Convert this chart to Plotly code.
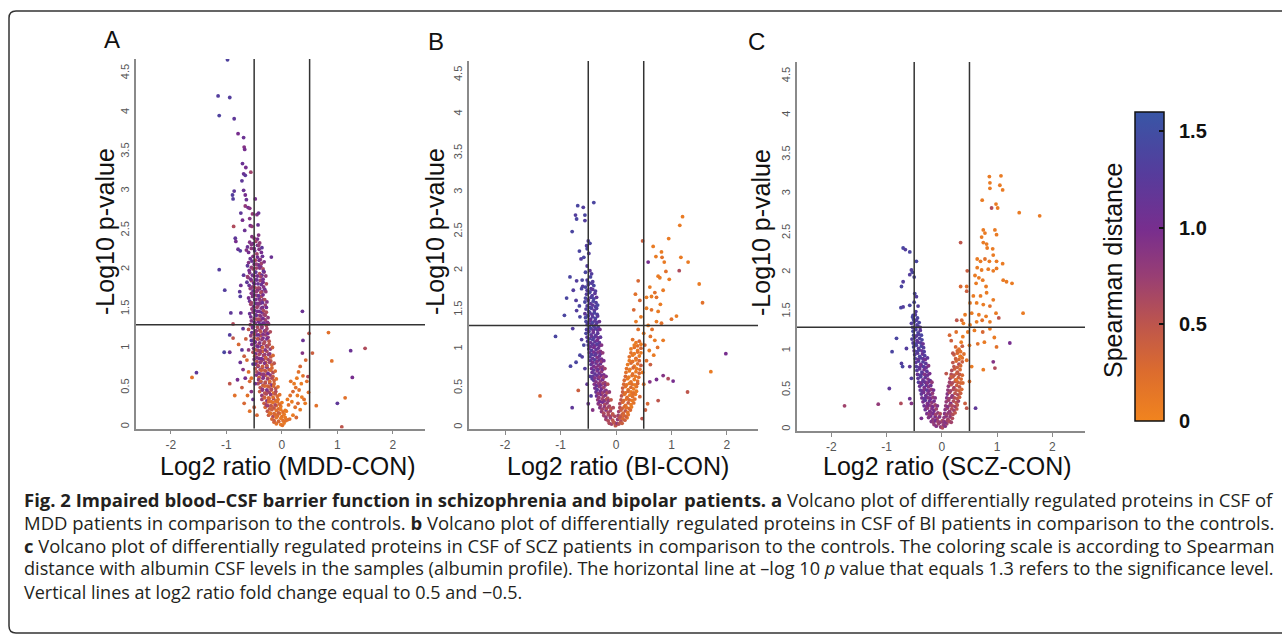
import plotly.graph_objects as go

# ---------------- DATA ----------------
# Panel A: MDD vs CON  (log2 ratio, -log10 p, Spearman distance)
mdd_top_log2 = [-0.98, -1.15, -0.94, -1.13, -0.86, -0.79, -0.69, -0.68,
                -0.67, -0.71, -0.65, -0.69, -0.66, -0.56, -0.72, -0.69,
                -0.89, -0.86, -0.88, -0.66, -0.64, -0.48, -0.66, -0.61,
                -0.58, -0.74, -0.53, -0.45, -0.42, -0.71, -0.58, -0.87,
                -0.57, -0.54, -0.67, -0.43, -0.84, -0.83, -0.54, -0.50,
                -0.44, -0.42, -0.79, -0.75, -0.64, -0.19, -1.13, -1.03,
                -0.92, -0.74, -0.75, -0.76, -0.74, -0.62, -0.69, 0.37]
mdd_top_nlogp = [4.67, 4.21, 4.19, 3.96, 3.92, 3.73, 3.68, 3.56,
                 3.53, 3.35, 3.30, 3.22, 3.20, 3.24, 3.13, 3.01,
                 2.95, 3.00, 2.90, 2.95, 2.89, 2.90, 2.81, 2.79,
                 2.78, 2.72, 2.71, 2.70, 2.72, 2.63, 2.65, 2.55,
                 2.56, 2.55, 2.50, 2.57, 2.40, 2.36, 2.42, 2.40,
                 2.39, 2.44, 2.26, 2.24, 2.25, 2.16, 2.00, 1.74,
                 1.45, 1.45, 1.66, 1.72, 1.80, 1.91, 1.93, 1.47]
mdd_top_dist = [1.35, 1.30, 1.30, 1.35, 1.20, 1.00, 1.10, 0.90,
                1.00, 1.10, 1.00, 1.10, 1.20, 0.70, 1.20, 1.10,
                1.30, 1.20, 1.30, 1.00, 1.10, 1.00, 0.80, 1.00,
                0.90, 1.20, 0.80, 0.90, 1.10, 1.00, 0.90, 0.60,
                1.00, 0.80, 1.10, 1.10, 1.20, 1.00, 0.90, 0.80,
                1.00, 0.90, 1.10, 1.30, 0.90, 1.10, 1.30, 1.30,
                1.20, 1.10, 1.30, 1.20, 1.10, 0.70, 1.20, 1.10]

mdd_band_log2 = [-0.58, -0.52, -0.47, -0.44, -0.40,
                 -0.60, -0.55, -0.49, -0.45, -0.41, -0.37,
                 -0.57, -0.52, -0.48, -0.44, -0.39, -0.35,
                 -0.62, -0.55, -0.50, -0.46, -0.42, -0.38, -0.34,
                 -0.58, -0.53, -0.48, -0.44, -0.40, -0.36, -0.32,
                 -0.63, -0.55, -0.51, -0.47, -0.43, -0.39, -0.34,
                 -0.57, -0.52, -0.48, -0.44, -0.40, -0.36, -0.31,
                 -0.60, -0.53, -0.49, -0.45, -0.41, -0.37, -0.33,
                 -0.56, -0.51, -0.47, -0.43, -0.39, -0.35, -0.30,
                 -0.58, -0.52, -0.48, -0.44, -0.40, -0.36, -0.32, -0.28,
                 -0.55, -0.50, -0.46, -0.42, -0.38, -0.34, -0.30, -0.26,
                 -0.60, -0.53, -0.48, -0.44, -0.40, -0.36, -0.31, -0.27,
                 -0.56, -0.50, -0.46, -0.42, -0.38, -0.34, -0.29, -0.25,
                 -0.54, -0.49, -0.45, -0.41, -0.37, -0.33, -0.28, -0.23,
                 -0.52, -0.47, -0.43, -0.39, -0.35, -0.31, -0.27, -0.22,
                 -0.50, -0.45, -0.41, -0.37, -0.33, -0.29, -0.25, -0.20,
                 -0.48, -0.43, -0.39, -0.35, -0.31, -0.27, -0.23, -0.18,
                 -0.46, -0.41, -0.37, -0.33, -0.29, -0.25, -0.21, -0.16,
                 -0.43, -0.38, -0.34, -0.30, -0.26, -0.22, -0.18, -0.14,
                 -0.40, -0.35, -0.31, -0.27, -0.23, -0.19, -0.15, -0.11,
                 -0.36, -0.31, -0.27, -0.23, -0.19, -0.15, -0.11, -0.07,
                 -0.30, -0.26, -0.22, -0.18, -0.14, -0.10, -0.06, -0.02,
                 -0.24, -0.20, -0.16, -0.12, -0.08, -0.04, 0.00, 0.04,
                 -0.14, -0.10, -0.06, -0.02, 0.01, 0.04, 0.07]
mdd_band_nlogp = [2.35, 2.33, 2.36, 2.31, 2.34,
                  2.22, 2.27, 2.24, 2.20, 2.26, 2.22,
                  2.14, 2.17, 2.12, 2.16, 2.13, 2.17,
                  2.05, 2.03, 2.07, 2.02, 2.06, 2.04, 2.01,
                  1.96, 1.93, 1.97, 1.92, 1.95, 1.93, 1.97,
                  1.84, 1.86, 1.83, 1.87, 1.82, 1.86, 1.84,
                  1.76, 1.73, 1.77, 1.74, 1.76, 1.72, 1.75,
                  1.64, 1.66, 1.62, 1.67, 1.63, 1.66, 1.62,
                  1.56, 1.53, 1.57, 1.54, 1.57, 1.52, 1.55,
                  1.44, 1.46, 1.43, 1.47, 1.42, 1.46, 1.43, 1.46,
                  1.35, 1.33, 1.37, 1.34, 1.36, 1.32, 1.36, 1.33,
                  1.24, 1.26, 1.22, 1.27, 1.23, 1.26, 1.22, 1.25,
                  1.16, 1.13, 1.17, 1.12, 1.16, 1.13, 1.17, 1.14,
                  1.05, 1.07, 1.03, 1.06, 1.02, 1.06, 1.03, 1.05,
                  0.95, 0.93, 0.97, 0.94, 0.96, 0.92, 0.96, 0.93,
                  0.86, 0.83, 0.87, 0.84, 0.86, 0.82, 0.86, 0.84,
                  0.74, 0.77, 0.73, 0.76, 0.72, 0.76, 0.73, 0.75,
                  0.66, 0.63, 0.67, 0.64, 0.66, 0.62, 0.66, 0.64,
                  0.55, 0.57, 0.53, 0.56, 0.52, 0.56, 0.53, 0.55,
                  0.45, 0.47, 0.43, 0.46, 0.44, 0.47, 0.43, 0.45,
                  0.35, 0.37, 0.33, 0.36, 0.32, 0.36, 0.33, 0.35,
                  0.25, 0.27, 0.23, 0.26, 0.24, 0.27, 0.23, 0.26,
                  0.15, 0.17, 0.13, 0.16, 0.14, 0.17, 0.13, 0.16,
                  0.06, 0.04, 0.07, 0.03, 0.02, 0.05, 0.08]
mdd_band_dist = [0.9, 1.0, 0.7, 1.1, 0.8,
                 1.0, 0.8, 1.1, 0.7, 0.9, 1.0,
                 1.1, 0.9, 0.6, 1.0, 0.8, 1.1,
                 1.2, 0.8, 1.0, 0.7, 1.1, 0.9, 0.6,
                 0.9, 1.1, 0.8, 1.0, 0.6, 1.1, 0.8,
                 1.2, 0.7, 1.0, 0.9, 1.1, 0.7, 1.0,
                 0.8, 1.1, 0.6, 0.9, 1.0, 0.8, 1.1,
                 1.0, 0.9, 1.1, 0.7, 1.0, 0.6, 0.9,
                 0.7, 1.0, 1.1, 0.8, 0.9, 1.1, 0.7,
                 1.1, 0.8, 0.9, 1.0, 0.7, 1.1, 0.8, 0.6,
                 0.9, 1.1, 0.6, 1.0, 0.8, 1.1, 0.7, 0.9,
                 0.5, 1.0, 0.8, 1.1, 0.6, 0.9, 1.0, 0.7,
                 0.8, 0.6, 1.1, 0.9, 0.5, 1.0, 0.7, 0.8,
                 1.0, 0.7, 0.9, 0.5, 1.1, 0.6, 0.8, 0.5,
                 0.6, 1.0, 0.7, 0.9, 0.4, 0.8, 0.6, 0.9,
                 0.9, 0.5, 1.0, 0.6, 0.8, 0.4, 0.7, 0.5,
                 0.5, 1.0, 0.6, 0.8, 0.4, 0.9, 0.5, 0.3,
                 0.9, 0.4, 0.7, 1.0, 0.5, 0.3, 0.8, 0.4,
                 0.6, 1.1, 0.4, 0.8, 0.3, 0.6, 0.9, 0.3,
                 0.4, 0.9, 0.5, 0.3, 0.7, 0.4, 0.2, 0.6,
                 0.7, 0.3, 0.9, 0.4, 0.2, 0.6, 0.3, 0.2,
                 0.3, 0.8, 0.4, 0.2, 0.5, 0.2, 0.3, 0.1,
                 0.4, 0.2, 0.6, 0.2, 0.3, 0.1, 0.2, 0.1,
                 0.3, 0.2, 0.4, 0.1, 0.2, 0.1, 0.2]

mdd_fill_log2 = [-0.62, -0.55, -0.50, -0.42, -0.36,
                 -0.60, -0.54, -0.46, -0.41, -0.37, -0.32,
                 -0.59, -0.52, -0.47, -0.40, -0.33,
                 -0.61, -0.56, -0.50, -0.45, -0.38, -0.34, -0.29,
                 -0.59, -0.53, -0.49, -0.42, -0.37, -0.33, -0.28,
                 -0.55, -0.50, -0.46, -0.42, -0.38, -0.34, -0.29,
                 -0.58, -0.55, -0.47, -0.43, -0.39, -0.35, -0.31, -0.27,
                 -0.54, -0.49, -0.45, -0.41, -0.37, -0.33, -0.28,
                 -0.56, -0.50, -0.46, -0.42, -0.38, -0.34, -0.30, -0.25,
                 -0.57, -0.52, -0.48, -0.44, -0.40, -0.36, -0.32, -0.28, -0.24,
                 -0.54, -0.50, -0.46, -0.42, -0.38, -0.34, -0.29, -0.25, -0.21,
                 -0.52, -0.48, -0.44, -0.40, -0.36, -0.31, -0.27, -0.23,
                 -0.51, -0.47, -0.43, -0.39, -0.35, -0.30, -0.26, -0.21, -0.17,
                 -0.49, -0.45, -0.41, -0.37, -0.33, -0.29, -0.24, -0.20, -0.16,
                 -0.47, -0.43, -0.39, -0.35, -0.31, -0.27, -0.22, -0.18, -0.14,
                 -0.45, -0.41, -0.37, -0.33, -0.29, -0.25, -0.20, -0.16, -0.12,
                 -0.42, -0.38, -0.34, -0.30, -0.26, -0.22, -0.18, -0.14, -0.10,
                 -0.39, -0.35, -0.31, -0.27, -0.23, -0.19, -0.15, -0.11, -0.07,
                 -0.36, -0.32, -0.28, -0.24, -0.20, -0.16, -0.12, -0.08, -0.04,
                 -0.32, -0.28, -0.24, -0.20, -0.16, -0.12, -0.08, -0.04, 0.00,
                 -0.26, -0.22, -0.18, -0.14, -0.10, -0.06, -0.02, 0.02, 0.06,
                 -0.18, -0.14, -0.10, -0.06, -0.02, 0.02, 0.06, 0.10]
mdd_fill_nlogp = [2.29, 2.32, 2.27, 2.31, 2.28,
                  2.09, 2.11, 2.07, 2.12, 2.08, 2.10,
                  1.99, 2.01, 1.97, 2.02, 1.98,
                  1.90, 1.88, 1.92, 1.87, 1.91, 1.88, 1.92,
                  1.80, 1.78, 1.82, 1.77, 1.81, 1.78, 1.82,
                  1.70, 1.68, 1.72, 1.67, 1.71, 1.68, 1.72,
                  1.60, 1.58, 1.62, 1.57, 1.61, 1.58, 1.62, 1.59,
                  1.50, 1.48, 1.52, 1.47, 1.51, 1.48, 1.52,
                  1.40, 1.38, 1.42, 1.37, 1.41, 1.38, 1.42, 1.39,
                  1.30, 1.28, 1.32, 1.27, 1.31, 1.28, 1.32, 1.29, 1.31,
                  1.20, 1.18, 1.22, 1.17, 1.21, 1.18, 1.22, 1.19, 1.21,
                  1.10, 1.08, 1.12, 1.07, 1.11, 1.08, 1.12, 1.09,
                  1.00, 0.98, 1.02, 0.97, 1.01, 0.98, 1.02, 0.99, 1.01,
                  0.90, 0.88, 0.92, 0.87, 0.91, 0.88, 0.92, 0.89, 0.91,
                  0.80, 0.78, 0.82, 0.77, 0.81, 0.78, 0.82, 0.79, 0.81,
                  0.70, 0.68, 0.72, 0.67, 0.71, 0.68, 0.72, 0.69, 0.71,
                  0.60, 0.58, 0.62, 0.57, 0.61, 0.58, 0.62, 0.59, 0.61,
                  0.50, 0.48, 0.52, 0.47, 0.51, 0.48, 0.52, 0.49, 0.51,
                  0.40, 0.38, 0.42, 0.37, 0.41, 0.38, 0.42, 0.39, 0.41,
                  0.30, 0.28, 0.32, 0.27, 0.31, 0.28, 0.32, 0.29, 0.31,
                  0.20, 0.18, 0.22, 0.17, 0.21, 0.18, 0.22, 0.19, 0.21,
                  0.10, 0.08, 0.12, 0.07, 0.11, 0.08, 0.12, 0.09]
mdd_fill_dist = [1.1, 0.9, 1.0, 0.8, 1.2,
                 0.9, 1.1, 0.8, 1.0, 0.7, 0.9,
                 1.0, 0.7, 1.2, 0.9, 1.1,
                 0.8, 1.0, 0.9, 1.1, 0.7, 1.0, 0.8,
                 1.1, 0.8, 1.0, 0.7, 1.1, 0.9, 0.6,
                 0.9, 1.0, 0.8, 1.1, 0.6, 1.0, 0.8,
                 1.1, 0.7, 1.0, 0.9, 0.8, 1.1, 0.6, 0.9,
                 0.8, 1.1, 0.7, 1.0, 0.9, 0.6, 1.0,
                 1.0, 0.8, 1.1, 0.6, 0.9, 1.0, 0.7, 0.8,
                 0.7, 1.0, 0.9, 0.6, 1.1, 0.8, 1.0, 0.6, 0.8,
                 1.1, 0.6, 0.8, 1.0, 0.5, 0.9, 0.7, 1.0, 0.6,
                 0.7, 1.0, 0.5, 0.9, 0.8, 0.6, 1.0, 0.5,
                 0.9, 0.5, 1.0, 0.7, 0.4, 0.9, 0.6, 0.8, 0.4,
                 0.5, 0.9, 0.6, 1.0, 0.7, 0.4, 0.8, 0.5, 0.3,
                 1.0, 0.6, 0.8, 0.4, 0.9, 0.5, 0.7, 0.3, 0.5,
                 0.6, 0.9, 0.4, 0.8, 0.5, 1.0, 0.3, 0.6, 0.3,
                 0.8, 0.4, 0.9, 0.5, 0.7, 0.3, 0.6, 0.4, 0.2,
                 0.5, 0.8, 0.3, 0.9, 0.4, 0.6, 0.3, 0.5, 0.2,
                 0.8, 0.4, 0.6, 0.3, 0.8, 0.2, 0.5, 0.3, 0.2,
                 0.4, 0.7, 0.3, 0.5, 0.2, 0.6, 0.2, 0.3, 0.1,
                 0.5, 0.2, 0.4, 0.3, 0.2, 0.4, 0.1, 0.2, 0.1,
                 0.3, 0.4, 0.2, 0.3, 0.1, 0.2, 0.1, 0.2]

mdd_right_log2 = [0.08, 0.12, 0.10, 0.15, 0.18, 0.20, 0.22, 0.25, 0.27, 0.30, 0.33, 0.28, 0.31, 0.36,
                  0.40, 0.42, 0.24, 0.33, 0.14, 0.20, 0.26, 0.45, 0.43, 0.16, 0.35, 0.38, 0.29, 0.48]
mdd_right_nlogp = [0.20, 0.28, 0.35, 0.40, 0.32, 0.45, 0.55, 0.50, 0.62, 0.70, 0.77, 0.40, 0.47, 0.38,
                   0.35, 0.30, 0.25, 0.22, 0.10, 0.15, 0.12, 0.58, 0.85, 0.58, 0.55, 0.65, 0.30, 0.44]
mdd_right_dist = [0.1, 0.2, 0.1, 0.2, 0.1, 0.3, 0.1, 0.2, 0.1, 0.2, 0.3, 0.1, 0.2, 0.1,
                  0.2, 0.1, 0.2, 0.1, 0.2, 0.1, 0.3, 0.2, 0.3, 0.2, 0.1, 0.2, 0.3, 0.2]

mdd_out_log2 = [-0.94, -0.88, -0.70, -0.88, 0.38, 0.49, 0.84, -1.04, -0.94, 0.55, 0.37, 1.24,
                1.50, 0.90, -1.54, -1.62, 1.27, -0.94, 1.14, 1.00, 0.62, 1.08, 0.47,
                -0.78, -0.72, -0.68, -0.75, -0.63, -0.70, -0.60, -0.66, -0.58, -0.72, -0.55, -0.62, -0.52,
                -0.68, -0.50, -0.58, -0.45, -0.65, -0.55, -0.60, -0.52, -0.55, -0.48, -0.80, -0.85]
mdd_out_nlogp = [1.17, 1.13, 1.25, 1.31, 1.10, 1.19, 1.20, 0.95, 0.95, 0.94, 0.94, 0.97,
                 1.00, 0.84, 0.69, 0.63, 0.63, 0.55, 0.37, 0.30, 0.27, 0.00, 0.64,
                 1.05, 0.98, 0.90, 0.82, 0.85, 0.73, 0.70, 0.62, 0.58, 0.50, 0.45, 0.40, 0.35,
                 0.30, 0.25, 0.20, 0.15, 1.12, 1.10, 0.98, 0.80, 0.62, 0.55, 0.60, 0.40]
mdd_out_dist = [1.3, 0.5, 1.2, 0.6, 1.1, 0.5, 0.2, 1.4, 1.1, 0.4, 0.9, 1.1,
                0.6, 0.2, 1.2, 0.2, 1.0, 0.5, 0.2, 1.2, 0.2, 0.5, 0.6,
                0.3, 1.2, 0.4, 1.1, 0.3, 0.9, 0.2, 1.0, 0.3, 0.4, 0.9, 0.2, 1.1,
                0.3, 0.4, 0.2, 0.3, 0.4, 1.2, 0.8, 1.2, 0.2, 1.1, 1.0, 0.2]

# Panel B: BI vs CON
bi_left_log2 = [-0.40, -0.69, -0.59, -0.56, -0.73, -0.71, -0.56, -0.79, -0.50, -0.47,
                -0.53, -0.66, -0.63, -0.58, -0.52, -0.47, -0.44, -0.83, -0.71, -0.61,
                -0.77, -0.62, -0.89, -0.72, -0.93, -0.71, -0.65, -0.78, -1.09, -0.72,
                -0.61, -0.68, -1.37, -0.79, -0.43, -0.52, -0.49, -0.55, -0.60, -0.66,
                -0.62, -0.58, -0.47, -0.52, -0.45, -0.50, -0.42, -0.56, -0.65, -0.82]
bi_left_nlogp = [2.87, 2.83, 2.81, 2.71, 2.71, 2.66, 2.64, 2.50, 2.38, 2.35,
                 2.32, 2.25, 2.15, 2.17, 2.06, 2.00, 1.96, 1.92, 1.87, 1.88,
                 1.75, 1.77, 1.65, 1.62, 1.43, 1.49, 1.41, 1.26, 1.16, 0.83,
                 0.90, 0.47, 0.40, 0.25, 0.62, 2.28, 2.22, 1.98, 1.80, 1.55,
                 1.12, 1.05, 0.65, 0.55, 0.40, 0.30, 0.22, 0.75, 0.92, 0.78]
bi_left_dist = [1.4, 1.4, 1.3, 1.4, 1.3, 1.4, 1.3, 1.4, 1.3, 1.4,
                1.3, 1.4, 1.3, 1.4, 1.3, 1.2, 1.3, 1.4, 1.3, 1.4,
                1.3, 1.4, 1.4, 1.3, 1.4, 1.3, 1.4, 1.3, 1.4, 1.4,
                1.3, 0.4, 0.3, 1.2, 1.3, 1.4, 1.3, 1.4, 1.3, 1.4,
                1.3, 1.4, 1.3, 1.2, 1.3, 1.1, 0.9, 1.3, 1.4, 1.4]

bi_band_log2 = [-0.52, -0.46, -0.42,
                -0.55, -0.50, -0.45, -0.40,
                -0.53, -0.48, -0.43, -0.38,
                -0.56, -0.50, -0.46, -0.41, -0.36,
                -0.54, -0.49, -0.44, -0.39, -0.35,
                -0.55, -0.50, -0.46, -0.42, -0.37, -0.33,
                -0.52, -0.48, -0.44, -0.40, -0.36, -0.32,
                -0.54, -0.49, -0.45, -0.41, -0.37, -0.33,
                -0.51, -0.46, -0.42, -0.38, -0.34, -0.30,
                -0.49, -0.44, -0.40, -0.36, -0.32, -0.28,
                -0.47, -0.42, -0.38, -0.34, -0.30, -0.26,
                -0.45, -0.40, -0.36, -0.32, -0.28, -0.24,
                -0.43, -0.38, -0.34, -0.30, -0.26, -0.22,
                -0.40, -0.36, -0.32, -0.28, -0.24, -0.20,
                -0.38, -0.34, -0.30, -0.26, -0.22, -0.18,
                -0.35, -0.31, -0.27, -0.23, -0.19, -0.15,
                -0.32, -0.28, -0.24, -0.20, -0.16, -0.12,
                -0.26, -0.22, -0.18, -0.14, -0.10, -0.06,
                -0.18, -0.14, -0.10, -0.06, -0.03, 0.00]
bi_band_nlogp = [1.88, 1.92, 1.86,
                 1.79, 1.82, 1.77, 1.81,
                 1.70, 1.72, 1.68, 1.71,
                 1.60, 1.62, 1.58, 1.61, 1.59,
                 1.51, 1.48, 1.52, 1.49, 1.52,
                 1.40, 1.42, 1.38, 1.41, 1.39, 1.42,
                 1.31, 1.28, 1.32, 1.29, 1.31, 1.28,
                 1.20, 1.22, 1.18, 1.21, 1.17, 1.20,
                 1.10, 1.08, 1.12, 1.09, 1.11, 1.08,
                 1.00, 0.98, 1.02, 0.99, 1.01, 0.97,
                 0.90, 0.88, 0.92, 0.89, 0.91, 0.87,
                 0.80, 0.78, 0.82, 0.79, 0.81, 0.77,
                 0.70, 0.68, 0.72, 0.69, 0.71, 0.67,
                 0.60, 0.58, 0.62, 0.59, 0.61, 0.57,
                 0.50, 0.48, 0.52, 0.49, 0.51, 0.47,
                 0.40, 0.38, 0.42, 0.39, 0.41, 0.37,
                 0.30, 0.28, 0.32, 0.29, 0.31, 0.27,
                 0.20, 0.18, 0.22, 0.19, 0.21, 0.17,
                 0.10, 0.08, 0.12, 0.09, 0.06, 0.03]
bi_band_dist = [1.3, 1.4, 1.3,
                1.4, 1.3, 1.2, 1.4,
                1.3, 1.4, 1.3, 1.2,
                1.4, 1.3, 1.2, 1.4, 1.3,
                1.3, 1.4, 1.3, 1.2, 1.3,
                1.4, 1.3, 1.2, 1.3, 1.4, 1.2,
                1.3, 1.4, 1.2, 1.3, 1.1, 1.3,
                1.4, 1.2, 1.3, 1.1, 1.3, 1.2,
                1.3, 1.1, 1.3, 1.2, 1.0, 1.2,
                1.2, 1.3, 1.0, 1.2, 1.1, 0.9,
                1.3, 1.1, 1.2, 0.9, 1.1, 1.0,
                1.2, 1.0, 1.2, 0.9, 1.1, 0.8,
                1.1, 1.2, 0.9, 1.1, 0.8, 1.0,
                1.2, 0.9, 1.1, 0.8, 1.0, 0.7,
                1.0, 1.2, 0.8, 1.0, 0.7, 0.9,
                1.1, 0.8, 1.0, 0.7, 0.9, 0.6,
                0.9, 0.7, 1.0, 0.6, 0.8, 0.6,
                0.8, 0.6, 0.9, 0.6, 0.7, 0.5,
                0.7, 0.6, 0.8, 0.5, 0.6, 0.4]

bi_fill_log2 = [-0.50, -0.44,
                -0.52, -0.47, -0.42, -0.37,
                -0.55, -0.50, -0.45, -0.40, -0.35,
                -0.52, -0.47, -0.42, -0.37, -0.33,
                -0.56, -0.51, -0.47, -0.43, -0.39, -0.34,
                -0.54, -0.50, -0.46, -0.42, -0.38, -0.34, -0.30,
                -0.53, -0.49, -0.45, -0.41, -0.37, -0.33, -0.29,
                -0.52, -0.48, -0.44, -0.40, -0.36, -0.32, -0.28,
                -0.50, -0.46, -0.42, -0.38, -0.34, -0.30, -0.26,
                -0.48, -0.44, -0.40, -0.36, -0.32, -0.28, -0.24,
                -0.46, -0.42, -0.38, -0.34, -0.30, -0.26, -0.22,
                -0.44, -0.40, -0.36, -0.32, -0.28, -0.24, -0.20,
                -0.42, -0.38, -0.34, -0.30, -0.26, -0.22, -0.18,
                -0.39, -0.35, -0.31, -0.27, -0.23, -0.19, -0.15,
                -0.36, -0.32, -0.28, -0.24, -0.20, -0.16, -0.12,
                -0.33, -0.29, -0.25, -0.21, -0.17, -0.13, -0.09,
                -0.29, -0.25, -0.21, -0.17, -0.13, -0.09, -0.05,
                -0.22, -0.18, -0.14, -0.10, -0.06, -0.02,
                -0.12, -0.08, -0.04, -0.01]
bi_fill_nlogp = [1.85, 1.84,
                 1.75, 1.73, 1.76, 1.74,
                 1.65, 1.63, 1.66, 1.64, 1.66,
                 1.55, 1.53, 1.56, 1.54, 1.56,
                 1.45, 1.43, 1.46, 1.44, 1.46, 1.44,
                 1.35, 1.33, 1.36, 1.34, 1.36, 1.34, 1.35,
                 1.25, 1.23, 1.26, 1.24, 1.26, 1.24, 1.25,
                 1.15, 1.13, 1.16, 1.14, 1.16, 1.14, 1.15,
                 1.05, 1.03, 1.06, 1.04, 1.06, 1.04, 1.05,
                 0.95, 0.93, 0.96, 0.94, 0.96, 0.94, 0.95,
                 0.85, 0.83, 0.86, 0.84, 0.86, 0.84, 0.85,
                 0.75, 0.73, 0.76, 0.74, 0.76, 0.74, 0.75,
                 0.65, 0.63, 0.66, 0.64, 0.66, 0.64, 0.65,
                 0.55, 0.53, 0.56, 0.54, 0.56, 0.54, 0.55,
                 0.45, 0.43, 0.46, 0.44, 0.46, 0.44, 0.45,
                 0.35, 0.33, 0.36, 0.34, 0.36, 0.34, 0.35,
                 0.25, 0.23, 0.26, 0.24, 0.26, 0.24, 0.25,
                 0.15, 0.13, 0.16, 0.14, 0.16, 0.14,
                 0.05, 0.04, 0.06, 0.02]
bi_fill_dist = [1.4, 1.3,
                1.3, 1.4, 1.2, 1.3,
                1.4, 1.2, 1.3, 1.4, 1.2,
                1.3, 1.4, 1.2, 1.3, 1.4,
                1.2, 1.4, 1.3, 1.2, 1.4, 1.3,
                1.4, 1.3, 1.1, 1.4, 1.2, 1.3, 1.1,
                1.3, 1.2, 1.4, 1.1, 1.3, 1.2, 1.0,
                1.2, 1.4, 1.1, 1.3, 1.2, 1.0, 1.2,
                1.3, 1.1, 1.2, 1.0, 1.3, 1.1, 0.9,
                1.1, 1.3, 1.0, 1.2, 0.9, 1.1, 0.8,
                1.2, 1.0, 1.3, 0.9, 1.1, 0.8, 1.0,
                1.0, 1.2, 0.9, 1.1, 0.8, 1.0, 0.7,
                1.2, 0.9, 1.1, 0.8, 1.0, 0.7, 0.9,
                0.9, 1.1, 0.8, 1.0, 0.7, 0.9, 0.6,
                1.1, 0.8, 1.0, 0.7, 0.9, 0.6, 0.8,
                0.8, 1.0, 0.7, 0.9, 0.6, 0.8, 0.5,
                0.9, 0.7, 0.8, 0.6, 0.7, 0.5, 0.6,
                0.7, 0.8, 0.6, 0.7, 0.5, 0.6,
                0.6, 0.7, 0.5, 0.5]

bi_arm_log2 = [0.30, 0.36, 0.42,
               0.27, 0.33, 0.39, 0.45,
               0.24, 0.30, 0.36, 0.42,
               0.21, 0.27, 0.33, 0.39, 0.45,
               0.18, 0.24, 0.30, 0.36, 0.42,
               0.15, 0.21, 0.27, 0.33, 0.39,
               0.12, 0.17, 0.22, 0.27, 0.32, 0.37,
               0.10, 0.15, 0.20, 0.25, 0.30, 0.35,
               0.07, 0.12, 0.17, 0.22, 0.27, 0.32,
               0.05, 0.09, 0.13, 0.17, 0.21, 0.26,
               0.03, 0.06, 0.09, 0.12, 0.16, 0.20,
               0.33, 0.39, 0.45,
               0.27, 0.33, 0.39, 0.45,
               0.24, 0.30, 0.36, 0.42,
               0.19, 0.25, 0.31, 0.37, 0.43,
               0.17, 0.23, 0.29, 0.35, 0.41,
               0.14, 0.19, 0.24, 0.29, 0.34, 0.39,
               0.12, 0.17, 0.22, 0.27, 0.32, 0.37,
               0.09, 0.14, 0.19, 0.24, 0.29, 0.34,
               0.07, 0.11, 0.15, 0.19, 0.24, 0.28,
               0.04, 0.08, 0.11, 0.14, 0.18, 0.22,
               0.02, 0.05, 0.08, 0.11]
bi_arm_nlogp = [1.12, 1.08, 1.10,
                1.00, 1.02, 0.98, 1.01,
                0.90, 0.92, 0.88, 0.91,
                0.80, 0.82, 0.78, 0.81, 0.79,
                0.70, 0.72, 0.68, 0.71, 0.69,
                0.60, 0.62, 0.58, 0.61, 0.59,
                0.50, 0.52, 0.48, 0.51, 0.49, 0.52,
                0.40, 0.42, 0.38, 0.41, 0.39, 0.42,
                0.30, 0.32, 0.28, 0.31, 0.29, 0.31,
                0.20, 0.22, 0.18, 0.21, 0.19, 0.22,
                0.10, 0.12, 0.08, 0.11, 0.09, 0.12,
                1.05, 1.04, 1.06,
                0.95, 0.94, 0.96, 0.95,
                0.85, 0.84, 0.86, 0.85,
                0.75, 0.74, 0.76, 0.75, 0.74,
                0.65, 0.64, 0.66, 0.65, 0.64,
                0.55, 0.54, 0.56, 0.55, 0.54, 0.56,
                0.45, 0.44, 0.46, 0.45, 0.44, 0.46,
                0.35, 0.34, 0.36, 0.35, 0.34, 0.36,
                0.25, 0.24, 0.26, 0.25, 0.24, 0.26,
                0.15, 0.14, 0.16, 0.15, 0.14, 0.16,
                0.05, 0.04, 0.06, 0.05]
bi_arm_dist = [0.2, 0.1, 0.3,
               0.1, 0.2, 0.1, 0.3,
               0.2, 0.1, 0.3, 0.1,
               0.1, 0.3, 0.1, 0.2, 0.4,
               0.2, 0.1, 0.2, 0.1, 0.3,
               0.3, 0.1, 0.2, 0.1, 0.2,
               0.4, 0.2, 0.1, 0.3, 0.1, 0.2,
               0.5, 0.2, 0.3, 0.1, 0.2, 0.1,
               0.6, 0.3, 0.2, 0.4, 0.1, 0.2,
               0.7, 0.4, 0.3, 0.5, 0.2, 0.3,
               0.8, 0.5, 0.6, 0.3, 0.4, 0.2,
               0.1, 0.2, 0.1,
               0.2, 0.1, 0.2, 0.1,
               0.1, 0.2, 0.1, 0.3,
               0.2, 0.1, 0.3, 0.1, 0.2,
               0.3, 0.1, 0.2, 0.1, 0.2,
               0.3, 0.2, 0.1, 0.2, 0.1, 0.3,
               0.4, 0.2, 0.3, 0.1, 0.2, 0.1,
               0.5, 0.3, 0.2, 0.3, 0.1, 0.2,
               0.6, 0.4, 0.3, 0.2, 0.3, 0.1,
               0.7, 0.5, 0.4, 0.3, 0.4, 0.2,
               0.8, 0.6, 0.5, 0.4]

bi_right_log2 = [1.20, 1.15, 0.95, 0.48, 0.67, 0.72, 0.58, 0.82, 0.83, 1.17,
                 1.30, 1.14, 0.87, 0.90, 0.76, 0.79, 0.96, 0.40, 0.61, 0.70,
                 0.85, 1.50, 1.56, 0.35, 0.43, 0.55, 0.64, 0.73, 0.80, 0.55,
                 0.64, 0.76, 1.09, 1.00, 0.45, 0.73, 0.82, 0.50, 0.62, 0.70,
                 0.85, 0.58, 0.65, 0.52, 0.60, 0.75, 0.68, 0.55, 0.62,
                 1.98, 1.71, 1.29, 1.03, 0.94, 0.85, 0.73, 0.61, 0.76, 0.57,
                 0.53, 0.47, 0.30, 0.43, 0.48, 0.50, 0.40, 0.36, 0.32]
bi_right_nlogp = [2.69, 2.58, 2.41, 2.38, 2.31, 2.18, 2.11, 2.24, 2.17, 2.17,
                  2.11, 2.00, 2.11, 1.99, 1.93, 1.91, 1.89, 1.87, 1.79, 1.72,
                  1.75, 1.83, 1.59, 1.70, 1.62, 1.66, 1.67, 1.66, 1.57, 1.52,
                  1.50, 1.48, 1.42, 1.38, 1.41, 1.35, 1.33, 1.20, 1.16, 1.11,
                  1.11, 1.30, 1.25, 1.05, 0.98, 1.02, 0.92, 0.85, 0.80,
                  0.94, 0.71, 0.45, 0.59, 0.62, 0.66, 0.61, 0.58, 0.34, 0.30,
                  0.22, 0.11, 0.43, 0.39, 0.70, 0.55, 1.25, 1.35, 1.50]
bi_right_dist = [0.1, 0.1, 0.1, 0.4, 0.1, 0.1, 1.0, 0.1, 0.2, 0.1,
                 0.1, 0.6, 0.1, 0.2, 0.1, 0.1, 0.1, 0.3, 0.1, 0.2,
                 0.1, 0.1, 0.2, 0.2, 0.3, 0.1, 0.1, 0.2, 0.1, 0.1,
                 0.2, 0.1, 0.1, 0.2, 0.1, 0.1, 0.2, 0.1, 0.2, 0.1,
                 0.1, 0.1, 0.2, 0.3, 0.1, 0.2, 0.1, 0.2, 0.4,
                 1.0, 0.1, 0.5, 1.0, 0.6, 0.9, 1.0, 0.9, 0.5, 0.3,
                 0.4, 0.5, 0.2, 0.3, 0.1, 0.2, 0.2, 0.1, 0.3]

# Panel C: SCZ vs CON
scz_left_log2 = [-0.70, -0.66, -0.58, -0.46, -0.55, -0.53, -0.58, -0.50, -0.73, -0.70,
                 -0.49, -0.46, -0.74, -0.70, -0.58, -0.43, -0.82, -0.64, -0.90, -0.73,
                 -0.71, -0.58, -0.55, -0.95, -0.74, -1.15, -1.76, -0.58, -0.55, -0.37,
                 0.61, -0.50, -0.47, -0.52]
scz_left_nlogp = [2.31, 2.29, 2.26, 2.14, 2.03, 2.00, 1.97, 1.94, 1.82, 1.88,
                  1.73, 1.69, 1.55, 1.56, 1.58, 1.57, 1.16, 1.03, 0.99, 0.84,
                  0.80, 0.80, 0.65, 0.52, 0.33, 0.32, 0.30, 0.39, 0.33, 0.14,
                  0.27, 1.62, 1.50, 1.45]
scz_left_dist = [1.4, 1.3, 1.4, 1.4, 1.3, 1.4, 1.3, 1.4, 1.4, 1.3,
                 1.4, 1.3, 1.4, 1.3, 1.4, 1.3, 1.4, 1.3, 1.4, 1.3,
                 1.4, 1.2, 1.3, 1.2, 0.6, 0.8, 0.7, 1.1, 0.9, 1.0,
                 1.2, 1.4, 1.3, 1.4]

scz_band_log2 = [-0.53, -0.48, -0.44,
                 -0.55, -0.50, -0.45, -0.41,
                 -0.52, -0.47, -0.43, -0.39,
                 -0.54, -0.49, -0.45, -0.40, -0.36,
                 -0.51, -0.46, -0.42, -0.37, -0.33,
                 -0.49, -0.44, -0.40, -0.35, -0.31,
                 -0.47, -0.42, -0.38, -0.34, -0.29,
                 -0.45, -0.40, -0.36, -0.32, -0.27,
                 -0.43, -0.38, -0.34, -0.30, -0.25, -0.21,
                 -0.40, -0.36, -0.32, -0.28, -0.24, -0.20,
                 -0.37, -0.33, -0.29, -0.25, -0.21, -0.17,
                 -0.34, -0.30, -0.26, -0.22, -0.18, -0.14,
                 -0.30, -0.26, -0.22, -0.18, -0.14, -0.10,
                 -0.24, -0.20, -0.16, -0.12, -0.08, -0.04,
                 -0.14, -0.10, -0.06, -0.02, 0.01,
                 -0.51, -0.46,
                 -0.53, -0.48, -0.43, -0.39,
                 -0.51, -0.46, -0.42, -0.37,
                 -0.52, -0.47, -0.43, -0.38, -0.34,
                 -0.50, -0.45, -0.41, -0.36, -0.32,
                 -0.48, -0.43, -0.39, -0.34, -0.30, -0.26,
                 -0.46, -0.41, -0.37, -0.33, -0.28, -0.24,
                 -0.44, -0.39, -0.35, -0.31, -0.26, -0.22,
                 -0.42, -0.38, -0.34, -0.30, -0.26, -0.22, -0.18,
                 -0.39, -0.35, -0.31, -0.27, -0.23, -0.19, -0.15,
                 -0.36, -0.32, -0.28, -0.24, -0.20, -0.16, -0.12,
                 -0.32, -0.28, -0.24, -0.20, -0.16, -0.12, -0.08,
                 -0.27, -0.23, -0.19, -0.15, -0.11, -0.07, -0.03,
                 -0.19, -0.15, -0.11, -0.07, -0.03, 0.01]
scz_band_nlogp = [1.43, 1.46, 1.42,
                  1.35, 1.37, 1.33, 1.36,
                  1.25, 1.27, 1.23, 1.26,
                  1.15, 1.17, 1.13, 1.16, 1.14,
                  1.05, 1.07, 1.03, 1.06, 1.04,
                  0.95, 0.97, 0.93, 0.96, 0.94,
                  0.85, 0.87, 0.83, 0.86, 0.84,
                  0.75, 0.77, 0.73, 0.76, 0.74,
                  0.65, 0.67, 0.63, 0.66, 0.64, 0.62,
                  0.55, 0.57, 0.53, 0.56, 0.54, 0.56,
                  0.45, 0.47, 0.43, 0.46, 0.44, 0.46,
                  0.35, 0.37, 0.33, 0.36, 0.34, 0.36,
                  0.25, 0.27, 0.23, 0.26, 0.24, 0.26,
                  0.15, 0.17, 0.13, 0.16, 0.14, 0.16,
                  0.06, 0.04, 0.07, 0.03, 0.02,
                  1.40, 1.39,
                  1.30, 1.29, 1.31, 1.30,
                  1.20, 1.19, 1.21, 1.20,
                  1.10, 1.09, 1.11, 1.10, 1.09,
                  1.00, 0.99, 1.01, 1.00, 0.99,
                  0.90, 0.89, 0.91, 0.90, 0.89, 0.91,
                  0.80, 0.79, 0.81, 0.80, 0.79, 0.81,
                  0.70, 0.69, 0.71, 0.70, 0.69, 0.71,
                  0.60, 0.59, 0.61, 0.60, 0.59, 0.61, 0.60,
                  0.50, 0.49, 0.51, 0.50, 0.49, 0.51, 0.50,
                  0.40, 0.39, 0.41, 0.40, 0.39, 0.41, 0.40,
                  0.30, 0.29, 0.31, 0.30, 0.29, 0.31, 0.30,
                  0.20, 0.19, 0.21, 0.20, 0.19, 0.21, 0.20,
                  0.10, 0.09, 0.11, 0.10, 0.09, 0.11]
scz_band_dist = [1.4, 1.3, 1.4,
                 1.3, 1.4, 1.3, 1.4,
                 1.4, 1.3, 1.4, 1.2,
                 1.3, 1.4, 1.2, 1.3, 1.4,
                 1.4, 1.3, 1.2, 1.4, 1.3,
                 1.3, 1.2, 1.4, 1.1, 1.3,
                 1.2, 1.4, 1.1, 1.3, 1.2,
                 1.3, 1.1, 1.3, 1.0, 1.2,
                 1.2, 1.3, 1.0, 1.2, 0.9, 1.1,
                 1.1, 1.3, 1.0, 1.2, 0.9, 1.1,
                 1.2, 1.0, 1.1, 0.9, 1.1, 0.8,
                 1.0, 1.2, 0.9, 1.1, 0.8, 1.0,
                 1.1, 0.8, 1.0, 0.9, 1.0, 0.7,
                 0.9, 1.0, 0.8, 1.0, 0.7, 0.9,
                 0.8, 0.9, 0.7, 0.8, 0.6,
                 1.4, 1.3,
                 1.3, 1.4, 1.3, 1.2,
                 1.4, 1.2, 1.3, 1.4,
                 1.3, 1.4, 1.2, 1.3, 1.1,
                 1.2, 1.3, 1.4, 1.1, 1.3,
                 1.4, 1.1, 1.3, 1.2, 1.0, 1.2,
                 1.3, 1.2, 1.0, 1.3, 1.1, 0.9,
                 1.1, 1.3, 1.2, 0.9, 1.1, 1.0,
                 1.3, 1.0, 1.2, 1.1, 0.9, 1.1, 0.8,
                 1.2, 1.1, 0.9, 1.2, 1.0, 0.8, 1.0,
                 1.0, 1.2, 1.1, 0.9, 1.0, 0.8, 0.9,
                 1.1, 0.9, 1.0, 0.8, 1.0, 0.7, 0.9,
                 1.0, 0.8, 0.9, 1.0, 0.7, 0.8, 0.6,
                 0.9, 0.8, 1.0, 0.7, 0.8, 0.6]

scz_arm_log2 = [0.25, 0.31, 0.37,
                0.22, 0.28, 0.34, 0.40,
                0.20, 0.26, 0.31, 0.37,
                0.18, 0.23, 0.28, 0.33,
                0.15, 0.20, 0.25, 0.30, 0.35,
                0.12, 0.17, 0.22, 0.27, 0.32,
                0.10, 0.14, 0.19, 0.24, 0.29, 0.34,
                0.08, 0.12, 0.16, 0.21, 0.26, 0.30,
                0.06, 0.10, 0.14, 0.18, 0.22, 0.27,
                0.04, 0.08, 0.11, 0.15, 0.19,
                0.03, 0.06, 0.09,
                0.28, 0.34,
                0.25, 0.31, 0.37,
                0.22, 0.28, 0.34,
                0.17, 0.22, 0.27, 0.32, 0.37,
                0.14, 0.19, 0.24, 0.29, 0.34,
                0.11, 0.16, 0.21, 0.26, 0.31, 0.36,
                0.09, 0.13, 0.18, 0.23, 0.28, 0.32,
                0.07, 0.11, 0.15, 0.19, 0.24, 0.28,
                0.05, 0.09, 0.12, 0.16, 0.20, 0.24,
                0.03, 0.07, 0.10, 0.14, 0.17]
scz_arm_nlogp = [1.05, 1.02, 1.06,
                 0.95, 0.97, 0.93, 0.96,
                 0.85, 0.87, 0.83, 0.86,
                 0.75, 0.77, 0.73, 0.76,
                 0.65, 0.67, 0.63, 0.66, 0.64,
                 0.55, 0.57, 0.53, 0.56, 0.54,
                 0.45, 0.47, 0.43, 0.46, 0.44, 0.46,
                 0.35, 0.37, 0.33, 0.36, 0.34, 0.36,
                 0.25, 0.27, 0.23, 0.26, 0.24, 0.26,
                 0.15, 0.17, 0.13, 0.16, 0.14,
                 0.06, 0.04, 0.07,
                 1.00, 0.99,
                 0.90, 0.89, 0.91,
                 0.80, 0.79, 0.81,
                 0.70, 0.69, 0.71, 0.70, 0.69,
                 0.60, 0.59, 0.61, 0.60, 0.59,
                 0.50, 0.49, 0.51, 0.50, 0.49, 0.51,
                 0.40, 0.39, 0.41, 0.40, 0.39, 0.41,
                 0.30, 0.29, 0.31, 0.30, 0.29, 0.31,
                 0.20, 0.19, 0.21, 0.20, 0.19, 0.21,
                 0.10, 0.09, 0.11, 0.10, 0.09]
scz_arm_dist = [0.3, 0.2, 0.4,
                0.4, 0.3, 0.5, 0.2,
                0.5, 0.3, 0.6, 0.4,
                0.6, 0.4, 0.5, 0.3,
                0.7, 0.5, 0.6, 0.4, 0.3,
                0.8, 0.5, 0.7, 0.4, 0.5,
                0.9, 0.6, 0.8, 0.5, 0.6, 0.4,
                0.8, 0.7, 0.9, 0.6, 0.5, 0.7,
                0.9, 0.7, 0.8, 0.6, 0.7, 0.5,
                0.8, 0.9, 0.7, 0.8, 0.6,
                0.8, 0.9, 0.7,
                0.3, 0.2,
                0.4, 0.3, 0.2,
                0.5, 0.4, 0.3,
                0.6, 0.5, 0.4, 0.5, 0.3,
                0.7, 0.6, 0.5, 0.4, 0.3,
                0.8, 0.7, 0.6, 0.5, 0.4, 0.3,
                0.9, 0.7, 0.8, 0.6, 0.5, 0.4,
                0.8, 0.9, 0.7, 0.6, 0.7, 0.5,
                0.9, 0.7, 0.8, 0.7, 0.6, 0.5,
                0.8, 0.9, 0.7, 0.6, 0.7]

scz_right_log2 = [0.86, 1.07, 0.87, 0.87, 1.05, 1.10, 0.73, 0.98, 1.01, 0.90,
                  1.40, 1.77, 0.34, 0.75, 0.78, 0.72, 0.96, 0.99, 0.75, 0.81,
                  0.82, 0.92, 0.93, 0.64, 0.70, 0.78, 0.86, 0.99, 0.64, 0.72,
                  0.84, 0.93, 1.10, 0.99, 0.60, 0.67, 0.74, 0.62, 0.80, 0.46,
                  0.34, 0.45, 0.45, 0.57, 0.70, 0.81, 1.11, 1.17, 1.27, 1.47,
                  0.51, 0.63, 0.75, 0.87, 0.93, 0.42, 0.54, 0.67, 0.80, 0.98,
                  0.27, 0.36, 0.39, 0.51, 0.63, 0.73, 0.87, 1.03, 0.14, 0.26,
                  0.38, 0.47, 0.59, 0.74, 0.87, 0.17, 0.35, 0.50, 0.65, 0.77,
                  0.95, 1.23, 0.99, 0.20, 0.33, 0.45, 0.54, 0.75, 0.93, 0.96,
                  0.08, 0.17, 0.26, 0.38, 0.50, 0.42, 0.45]
scz_right_nlogp = [3.22, 3.23, 3.14, 3.07, 3.11, 3.05, 2.92, 2.87, 2.82, 2.82,
                   2.76, 2.72, 2.38, 2.54, 2.50, 2.45, 2.54, 2.48, 2.38, 2.36,
                   2.31, 2.30, 2.22, 2.17, 2.14, 2.17, 2.14, 2.14, 2.06, 2.03,
                   2.04, 2.02, 2.11, 2.05, 1.96, 1.93, 1.90, 1.86, 1.82, 2.02,
                   1.82, 1.82, 1.76, 1.70, 1.70, 1.74, 1.90, 1.88, 1.86, 1.48,
                   1.61, 1.61, 1.59, 1.57, 1.65, 1.46, 1.48, 1.46, 1.44, 1.48,
                   1.39, 1.39, 1.35, 1.33, 1.37, 1.39, 1.37, 1.42, 1.20, 1.24,
                   1.18, 1.24, 1.26, 1.24, 1.28, 1.13, 1.11, 1.07, 1.09, 1.11,
                   1.17, 1.10, 1.05, 0.97, 0.93, 0.88, 0.80, 0.76, 0.86, 0.78,
                   0.71, 0.67, 0.63, 0.59, 0.61, 0.33, 0.27]
scz_right_dist = [0.1, 0.1, 0.1, 0.1, 0.1, 0.1, 0.1, 0.1, 0.1, 0.6,
                  0.1, 0.1, 0.5, 0.1, 0.1, 0.1, 0.1, 0.1, 0.1, 0.1,
                  0.1, 0.1, 0.1, 0.1, 0.1, 0.2, 0.1, 0.1, 0.1, 0.1,
                  0.1, 0.1, 0.1, 0.1, 0.1, 0.1, 0.1, 0.1, 0.1, 0.4,
                  0.3, 0.2, 0.4, 0.1, 0.1, 0.1, 0.1, 0.1, 0.1, 0.1,
                  0.1, 0.1, 0.1, 0.2, 0.1, 0.1, 0.1, 0.1, 0.1, 0.1,
                  0.5, 0.3, 0.1, 0.1, 0.1, 0.2, 0.1, 0.5, 0.3, 0.2,
                  0.1, 0.1, 0.1, 0.3, 0.1, 0.4, 0.1, 0.1, 0.2, 0.1,
                  0.1, 1.0, 0.2, 0.5, 0.1, 0.2, 0.1, 0.1, 0.9, 0.6,
                  0.5, 0.4, 0.2, 0.3, 0.2, 0.4, 0.5]

mdd_log2 = mdd_top_log2 + mdd_band_log2 + mdd_fill_log2 + mdd_right_log2 + mdd_out_log2
mdd_nlogp = mdd_top_nlogp + mdd_band_nlogp + mdd_fill_nlogp + mdd_right_nlogp + mdd_out_nlogp
mdd_dist = mdd_top_dist + mdd_band_dist + mdd_fill_dist + mdd_right_dist + mdd_out_dist
bi_log2 = bi_left_log2 + bi_band_log2 + bi_fill_log2 + bi_arm_log2 + bi_right_log2
bi_nlogp = bi_left_nlogp + bi_band_nlogp + bi_fill_nlogp + bi_arm_nlogp + bi_right_nlogp
bi_dist = bi_left_dist + bi_band_dist + bi_fill_dist + bi_arm_dist + bi_right_dist
scz_log2 = scz_left_log2 + scz_band_log2 + scz_arm_log2 + scz_right_log2
scz_nlogp = scz_left_nlogp + scz_band_nlogp + scz_arm_nlogp + scz_right_nlogp
scz_dist = scz_left_dist + scz_band_dist + scz_arm_dist + scz_right_dist

for a, b, c in [(mdd_log2, mdd_nlogp, mdd_dist), (bi_log2, bi_nlogp, bi_dist), (scz_log2, scz_nlogp, scz_dist)]:
    assert len(a) == len(b) == len(c), (len(a), len(b), len(c))

panel_letters = ["A", "B", "C"]
x_titles = ["Log2 ratio (MDD-CON)", "Log2 ratio (BI-CON)", "Log2 ratio (SCZ-CON)"]
y_title = "-Log10 p-value"
x_tick_vals = [-2, -1, 0, 1, 2]
x_tick_text = ["-2", "-1", "0", "1", "2"]
y_tick_vals = [0, 0.5, 1, 1.5, 2, 2.5, 3, 3.5, 4, 4.5]
y_tick_text = ["0", "0.5", "1", "1.5", "2", "2.5", "3", "3.5", "4", "4.5"]
sig_level = 1.3
fold_cut = 0.5
cbar_vals = [0, 0.5, 1.0, 1.5]
cbar_text = ["0", "0.5", "1.0", "1.5"]
cbar_title = "Spearman distance"

caption_lines = [
    ("<b>Fig. 2 Impaired blood–CSF barrier function in schizophrenia and bipolar</b>",
     "<b>patients. a</b> Volcano plot of differentially regulated proteins in CSF of"),
    ("MDD patients in comparison to the controls. <b>b</b> Volcano plot of differentially",
     "regulated proteins in CSF of BI patients in comparison to the controls."),
    ("<b>c</b> Volcano plot of differentially regulated proteins in CSF of SCZ patients",
     "in comparison to the controls. The coloring scale is according to Spearman"),
    ("distance with albumin CSF levels in the samples (albumin profile). The horizontal",
     "line at –log 10 <i>p</i> value that equals 1.3 refers to the significance level."),
    ("Vertical lines at log2 ratio fold change equal to 0.5 and −0.5.", None),
]

# ---------------- FIGURE ----------------
W, H = 1282, 638
CMAX = 1.6
colorscale = [[0.0, "rgb(241,132,30)"], [0.16, "rgb(220,108,46)"], [0.31, "rgb(190,86,76)"],
              [0.47, "rgb(152,62,116)"], [0.62, "rgb(120,46,142)"], [0.80, "rgb(86,60,156)"],
              [1.0, "rgb(56,86,166)"]]

def fx(p):
    return p / W

def fy(p):
    return 1 - p / H

# pixel geometry of the three panels: (x_left, x_right), (y_bottom, y_top), x-range
geo = [((136, 425), (428.5, 59.0), (-2.63, 2.58)),
       ((469, 758), (428.8, 60.9), (-2.65, 2.56)),
       ((797, 1085), (430.9, 62.0), (-2.62, 2.59))]
data = [(mdd_log2, mdd_nlogp, mdd_dist), (bi_log2, bi_nlogp, bi_dist), (scz_log2, scz_nlogp, scz_dist)]
letter_pos = [(111.5, 39), (435.5, 41), (756.5, 41.5)]
xtitle_pos = [(287.5, 466), (618, 466), (947, 466)]
ytitle_pos = [(105, 232), (435, 232), (761, 233)]

fig = go.Figure()
shapes = []
annotations = []
font_main = "Liberation Sans, Arial, sans-serif"

for i in range(3):
    s = "" if i == 0 else str(i + 1)
    (xl, xr), (yb, yt), xrng = geo[i]
    xs, ys, cs = data[i]
    marker = dict(size=3.8, color=cs, colorscale=colorscale, cmin=0, cmax=CMAX, line=dict(width=0))
    if i == 2:
        marker.update(showscale=True, colorbar=dict(
            x=fx(1135), xanchor="left", xpad=0, y=fy(421), yanchor="bottom", ypad=0,
            len=309, lenmode="pixels", thickness=29, thicknessmode="pixels",
            outlinecolor="#111111", outlinewidth=1.5, tickvals=cbar_vals, ticktext=cbar_text,
            ticks="inside", ticklen=5, tickcolor="#111111", tickwidth=1.5, showticklabels=False))
    fig.add_trace(go.Scatter(x=xs, y=ys, mode="markers", marker=marker,
                             xaxis="x" + s, yaxis="y" + s, showlegend=False, hoverinfo="skip"))
    fig.update_layout(**{
        "xaxis" + s: dict(domain=[fx(xl), fx(xr)], range=list(xrng), anchor="y" + s,
                          showline=True, linecolor="#8a8a8a", linewidth=1.6, ticks="outside",
                          ticklen=4, tickcolor="#8a8a8a", tickvals=x_tick_vals, ticktext=x_tick_text,
                          tickfont=dict(size=12, color="#555555", family=font_main),
                          showgrid=False, zeroline=False, fixedrange=True),
        "yaxis" + s: dict(domain=[fy(yb), fy(yt)], range=[-0.02, 4.68], anchor="x" + s,
                          showline=True, linecolor="#8a8a8a", linewidth=1.6, ticks="",
                          tickvals=y_tick_vals, ticktext=y_tick_text, tickangle=-90,
                          ticklabelstandoff=1,
                          tickfont=dict(size=11, color="#555555", family=font_main),
                          showgrid=False, zeroline=False, fixedrange=True),
    })
    for xv in (-fold_cut, fold_cut):
        shapes.append(dict(type="line", xref="x" + s, yref="y" + s + " domain", x0=xv, x1=xv,
                           y0=0, y1=1, line=dict(color="#333333", width=1.5), layer="above"))
    shapes.append(dict(type="line", xref="x" + s + " domain", yref="y" + s, x0=0, x1=1,
                       y0=sig_level, y1=sig_level, line=dict(color="#333333", width=1.5), layer="above"))
    lx, ly = letter_pos[i]
    annotations.append(dict(text=panel_letters[i], x=fx(lx), y=fy(ly), xref="paper", yref="paper",
                            showarrow=False, xanchor="center", yanchor="middle",
                            font=dict(size=24, color="#111111", family=font_main)))
    tx, ty = xtitle_pos[i]
    annotations.append(dict(text=x_titles[i], x=fx(tx), y=fy(ty), xref="paper", yref="paper",
                            showarrow=False, xanchor="center", yanchor="middle",
                            font=dict(size=25, color="#111111", family=font_main)))
    vx, vy = ytitle_pos[i]
    annotations.append(dict(text=y_title, x=fx(vx), y=fy(vy), xref="paper", yref="paper",
                            showarrow=False, xanchor="center", yanchor="middle", textangle=-90,
                            font=dict(size=25, color="#111111", family=font_main)))

# colour bar labels and title
cb_bottom, cb_top = 421, 112
for v, t in zip(cbar_vals, cbar_text):
    py = cb_bottom - (cb_bottom - cb_top) * v / CMAX
    annotations.append(dict(text="<b>" + t + "</b>", x=fx(1177), y=fy(py), xref="paper", yref="paper",
                            showarrow=False, xanchor="left", yanchor="middle",
                            font=dict(size=20, color="#111111", family=font_main)))
annotations.append(dict(text=cbar_title, x=fx(1113), y=fy(271), xref="paper", yref="paper",
                        showarrow=False, xanchor="center", yanchor="middle", textangle=-90,
                        font=dict(size=25, color="#111111", family=font_main)))

# caption (justified look: left part anchored left, right part anchored right)
cap_y = [499, 522, 545, 568, 592]
cap_size = [18.5, 18.5, 18.4, 18.1, 18.0]
for (left, right), py, fs in zip(caption_lines, cap_y, cap_size):
    cap_font = dict(size=fs, color="#231f20", family="Open Sans, sans-serif")
    annotations.append(dict(text=left, x=fx(22), y=fy(py), xref="paper", yref="paper",
                            showarrow=False, xanchor="left", yanchor="middle", font=cap_font))
    if right:
        annotations.append(dict(text=right, x=fx(1276), y=fy(py), xref="paper", yref="paper",
                                showarrow=False, xanchor="right", yanchor="middle", font=cap_font))

# rounded frame, open to the right
r = 7
path = (f"M {fx(1300)},{fy(11)} L {fx(9 + r)},{fy(11)} Q {fx(9)},{fy(11)} {fx(9)},{fy(11 + r)} "
        f"L {fx(9)},{fy(633 - r)} Q {fx(9)},{fy(633)} {fx(9 + r)},{fy(633)} L {fx(1300)},{fy(633)}")
shapes.append(dict(type="path", xref="paper", yref="paper", path=path,
                   line=dict(color="#333333", width=1.5)))

fig.update_layout(width=W, height=H, margin=dict(l=0, r=0, t=0, b=0), autosize=False,
                  paper_bgcolor="white", plot_bgcolor="white", shapes=shapes,
                  annotations=annotations, showlegend=False)

fig.write_html("out.html", config={"displayModeBar": False},
               post_script="document.body.style.margin='0px';document.body.style.padding='0px';")
